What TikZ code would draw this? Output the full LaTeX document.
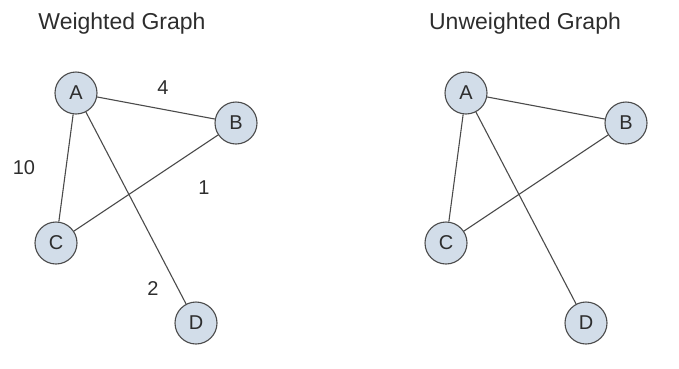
\documentclass[tikz,border=0pt]{standalone}
\usepackage{fontspec}
\setmainfont{Liberation Sans}
\definecolor{nodefill}{RGB}{210,221,233}
\definecolor{nodeline}{RGB}{75,75,75}
\definecolor{txt}{RGB}{45,45,45}
\begin{document}
\begin{tikzpicture}[x=1pt,y=-1pt,
  vtx/.style={circle,draw=nodeline,fill=nodefill,line width=1.1pt,minimum size=42pt,inner sep=0pt,text=txt,font=\fontsize{20}{20}\selectfont},
  edge/.style={draw=nodeline,line width=1.1pt},
  wlabel/.style={text=txt,font=\fontsize{20}{20}\selectfont,inner sep=0pt},
  title/.style={text=txt,font=\fontsize{23}{23}\selectfont,inner sep=0pt}]
\useasboundingbox (0,0) rectangle (679,368);
% Weighted graph
\node[title] (t1) at (122,24) {Weighted Graph};
\node[vtx] (A) at (76,93) {A};
\node[vtx] (B) at (236,123) {B};
\node[vtx] (C) at (56,243) {C};
\node[vtx] (D) at (196,323) {D};
\draw[edge] (A) -- (B);
\draw[edge] (A) -- (C);
\draw[edge] (A) -- (D);
\draw[edge] (B) -- (C);
\node[wlabel] (w4) at (163,88) {4};
\node[wlabel] (w10) at (24,168) {10};
\node[wlabel] (w1) at (204,188) {1};
\node[wlabel] (w2) at (153,289) {2};
% Unweighted graph
\node[title] (t2) at (525,24) {Unweighted Graph};
\node[vtx] (A2) at (466,93) {A};
\node[vtx] (B2) at (626,123) {B};
\node[vtx] (C2) at (446,243) {C};
\node[vtx] (D2) at (586,323) {D};
\draw[edge] (A2) -- (B2);
\draw[edge] (A2) -- (C2);
\draw[edge] (A2) -- (D2);
\draw[edge] (B2) -- (C2);
\end{tikzpicture}
\end{document}
